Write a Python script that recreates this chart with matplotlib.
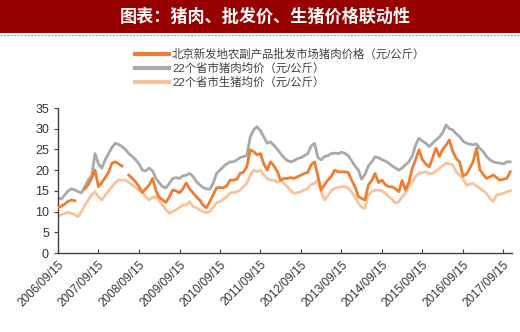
import numpy as np
import pandas as pd
import matplotlib
matplotlib.use('Agg')
import matplotlib.pyplot as plt
import matplotlib.dates as mdates
from matplotlib.patches import Rectangle
from matplotlib.lines import Line2D

plt.rcParams['font.family'] = ['Liberation Sans', 'Noto Sans CJK SC']

# monthly readings, mid-month, starting 2006/09/15
start = '2006-09-01'
n_months = 135

pork_wholesale = [10.9, 11.3, 11.8, 12.5, 12.8, 12.6, np.nan, np.nan, 15.5, 16.5,
                  18.0, 20.0, 16.0, 17.0, 18.2, 19.5, 21.7, 22.0, 21.5, 21.0,
                  np.nan, 18.8, 18.0, 17.2, 16.0, 14.6, 15.5, 16.4, 18.0, 15.0,
                  13.5, 12.8, 12.2, 13.5, 15.2, 15.0, 14.5, 15.5, 16.9, 15.5,
                  14.5, 13.5, 12.8, 11.6, 10.9, 12.4, 14.0, 15.7, 15.8, 15.7,
                  16.2, 17.6, 17.6, 17.8, 19.2, 19.5, 20.8, 24.9, 24.5, 23.7,
                  24.0, 21.5, 20.0, 22.0, 21.0, 19.6, 17.6, 18.0, 18.0, 18.2,
                  18.0, 18.4, 18.8, 19.2, 19.5, 21.3, 22.0, 18.5, 15.2, 16.5,
                  17.6, 18.5, 20.0, 19.6, 19.6, 19.6, 19.4, 17.6, 16.0, 13.6,
                  13.2, 12.8, 16.4, 17.5, 19.2, 17.0, 17.6, 16.5, 16.0, 16.0,
                  15.5, 14.8, 17.5, 15.2, 17.0, 20.4, 22.5, 24.9, 22.5, 21.5,
                  20.8, 22.9, 25.3, 23.3, 25.0, 26.0, 27.3, 24.5, 22.9, 22.0,
                  18.6, 19.0, 20.4, 22.0, 25.3, 20.0, 19.0, 18.0, 18.4, 18.8,
                  18.2, 17.6, 17.8, 18.0, 19.6]

pork_avg = [13.3, 13.0, 14.0, 15.0, 15.5, 15.2, 14.8, 14.5, 16.0, 17.6,
            18.5, 24.0, 21.5, 20.5, 22.5, 24.0, 25.5, 26.5, 26.2, 25.7,
            25.0, 24.0, 23.3, 22.5, 21.5, 20.0, 19.8, 20.5, 19.8, 18.0,
            17.0, 16.0, 15.7, 16.8, 18.0, 18.2, 18.0, 18.6, 18.8, 19.2,
            18.5, 17.2, 16.5, 15.8, 15.5, 15.4, 16.8, 19.2, 20.0, 20.8,
            21.5, 22.0, 22.0, 22.5, 23.0, 23.3, 23.5, 28.0, 29.7, 30.5,
            29.5, 28.0, 26.5, 26.8, 26.0, 25.0, 24.0, 23.0, 22.3, 22.0,
            22.3, 22.8, 23.0, 23.5, 24.0, 25.8, 26.5, 23.0, 22.5, 23.3,
            23.5, 24.0, 24.1, 24.0, 24.3, 24.1, 23.5, 22.3, 21.0, 20.0,
            17.8, 19.0, 21.0, 22.0, 23.2, 23.0, 22.5, 22.2, 21.7, 21.0,
            20.5, 20.0, 20.5, 21.3, 22.0, 23.3, 26.0, 27.7, 27.0, 26.5,
            25.7, 26.5, 27.3, 28.0, 29.0, 30.9, 30.0, 29.7, 28.8, 28.1,
            27.0, 26.5, 26.3, 26.1, 26.3, 25.2, 24.5, 23.3, 22.5, 22.0,
            21.8, 21.7, 21.5, 22.0, 22.0]

hog_avg = [8.8, 9.2, 9.6, 9.8, 9.6, 9.2, 8.8, 10.0, 11.5, 12.8,
           14.0, 14.8, 13.5, 12.8, 14.0, 15.0, 16.0, 17.0, 17.6, 17.6,
           17.6, 17.0, 16.4, 15.8, 15.2, 14.8, 13.5, 12.8, 13.4, 13.6,
           12.5, 11.6, 10.5, 9.6, 10.0, 10.4, 11.0, 11.6, 11.6, 12.4,
           11.2, 10.9, 10.4, 10.0, 9.7, 10.0, 11.0, 12.2, 12.4, 13.0,
           13.6, 14.5, 14.6, 14.8, 15.2, 16.0, 16.8, 18.8, 20.0, 19.6,
           20.0, 18.8, 18.0, 17.6, 17.6, 17.0, 17.6, 16.8, 16.0, 15.0,
           14.4, 14.6, 14.8, 15.2, 15.6, 16.5, 16.8, 17.6, 14.8, 12.8,
           13.8, 15.0, 15.6, 15.8, 16.0, 16.0, 15.6, 14.8, 13.5, 12.0,
           11.0, 10.8, 14.0, 14.8, 15.2, 15.2, 15.0, 14.5, 13.6, 13.0,
           12.0, 12.4, 13.5, 14.4, 15.8, 17.2, 18.5, 19.2, 19.4, 19.6,
           19.2, 19.2, 19.8, 20.4, 21.0, 21.7, 21.5, 21.3, 19.6, 18.8,
           18.0, 16.4, 16.6, 16.8, 16.2, 15.6, 15.0, 14.4, 13.2, 12.4,
           14.0, 14.2, 14.4, 14.8, 15.0]

labels = ['北京新发地农副产品批发市场猪肉价格（元/公斤）',
          '22个省市猪肉均价（元/公斤）',
          '22个省市生猪均价（元/公斤）']
colors = ['#ED7D31', '#A9A9A9', '#F8C29A']
tick_years = list(range(2006, 2018))

dates = pd.date_range(start, periods=n_months, freq='MS') + pd.Timedelta(days=14)

fig = plt.figure(figsize=(5.2, 3.32), dpi=100)

# title banner
fig.patches.append(Rectangle((0, 1 - 33 / 332), 1, 33 / 332, transform=fig.transFigure,
                             facecolor='#980000', edgecolor='none', zorder=0))
fig.lines.append(Line2D([0, 1], [1 - 34.5 / 332] * 2, transform=fig.transFigure,
                        color='#9A8FC0', lw=0.7, ls=(0, (2, 1.5))))
fig.text(0.51, 1 - 16.5 / 332, '图表：猪肉、批发价、生猪价格联动性', color='white',
         fontsize=12.3, fontweight='bold', ha='center', va='center',
         family=['Noto Sans CJK SC'])

ax = fig.add_axes([58 / 520, 1 - 253 / 332, (512 - 58) / 520, (253 - 108) / 332])

series = [pork_wholesale, pork_avg, hog_avg]
order = [1, 2, 0]
for i in order:
    ax.plot(dates, series[i], color=colors[i], lw=2.0, zorder=3 if i == 0 else 2,
            label=labels[i])

ax.set_ylim(0, 35)
ax.set_yticks(range(0, 36, 5))
ax.set_xlim(pd.Timestamp('2006-09-15'), pd.Timestamp('2017-12-01'))
ticks = pd.to_datetime([f'{y}-09-15' for y in tick_years])
ax.set_xticks(ticks)
ax.xaxis.set_major_formatter(mdates.DateFormatter('%Y/%m/%d'))
for lab in ax.get_xticklabels():
    lab.set_rotation(45)
    lab.set_ha('right')
    lab.set_rotation_mode('anchor')

for s in ['top', 'right']:
    ax.spines[s].set_visible(False)
for s in ['left', 'bottom']:
    ax.spines[s].set_color('#404040')
    ax.spines[s].set_linewidth(1.0)
ax.tick_params(axis='x', direction='in', length=3, color='#404040',
               labelsize=8.5, labelcolor='#333333', pad=4)
ax.tick_params(axis='y', direction='out', length=3, color='#404040',
               labelsize=9, labelcolor='#333333')

# legend drawn as stacked entries
handles = [Line2D([], [], color=colors[i], lw=3.0) for i in range(3)]
leg = fig.legend(handles, labels, loc='upper left',
                 bbox_to_anchor=(130 / 520, 1 - 44 / 332), frameon=False,
                 fontsize=8.2, handlelength=3.0, handletextpad=0.3,
                 labelspacing=0.25, borderaxespad=0)
for t in leg.get_texts():
    t.set_color('#404040')

fig.savefig('out.png', dpi=100, facecolor='white')
